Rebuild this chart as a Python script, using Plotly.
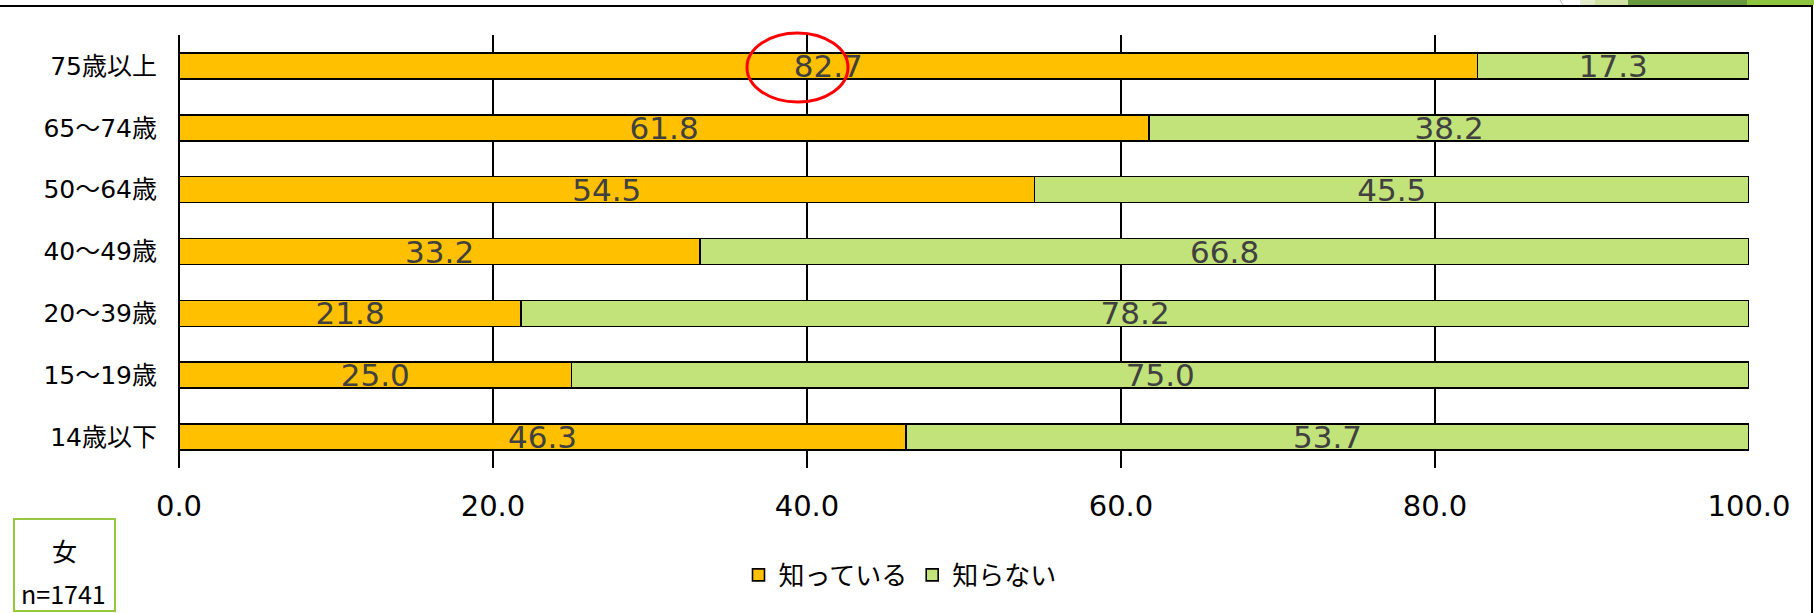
import plotly.graph_objects as go

# Age groups, listed top to bottom
age_groups = ["75歳以上", "65～74歳", "50～64歳", "40～49歳", "20～39歳", "15～19歳", "14歳以下"]
known = [82.7, 61.8, 54.5, 33.2, 21.8, 25.0, 46.3]
unknown = [17.3, 38.2, 45.5, 66.8, 78.2, 75.0, 53.7]
series_names = ["知っている", "知らない"]
x_ticks = [0, 20, 40, 60, 80, 100]
sample_label = ["女", "n=1741"]

W, H = 1814, 613
FONT = "Noto Sans CJK JP, Meiryo, sans-serif"
NUM_FONT = "DejaVu Sans, Noto Sans CJK JP, sans-serif"


def px(x):
    return x / W


def py(y):
    return 1 - y / H


fig = go.Figure()
for name, vals, color in [(series_names[0], known, "#FFC000"),
                          (series_names[1], unknown, "#C2E27A")]:
    fig.add_trace(go.Bar(
        name=name, y=age_groups, x=vals, orientation="h",
        marker=dict(color=color, line=dict(color="#000000", width=1.6)),
        texttemplate="%{x:.1f}", textposition="inside",
        insidetextanchor="middle", textangle=0, constraintext="none",
        textfont=dict(family=NUM_FONT, size=31, color="#404040"),
        hoverinfo="x+y",
    ))

shapes = [
    # outer frame: top and right edges
    dict(type="line", xref="paper", yref="paper", x0=0, x1=px(1813), y0=py(6), y1=py(6),
         line=dict(color="#000000", width=2)),
    dict(type="line", xref="paper", yref="paper", x0=px(1812), x1=px(1812), y0=py(6), y1=py(613),
         line=dict(color="#000000", width=2)),
    # slide decoration strip in the top right corner
    dict(type="rect", xref="paper", yref="paper", x0=px(1580), x1=px(1595), y0=py(5), y1=py(0),
         line=dict(width=0), fillcolor="#E3EDCB"),
    dict(type="rect", xref="paper", yref="paper", x0=px(1595), x1=px(1628), y0=py(5), y1=py(0),
         line=dict(width=0), fillcolor="#D0E2A4"),
    dict(type="rect", xref="paper", yref="paper", x0=px(1628), x1=px(1747), y0=py(5), y1=py(0),
         line=dict(width=0), fillcolor="#689A3D"),
    dict(type="rect", xref="paper", yref="paper", x0=px(1747), x1=px(1814), y0=py(5), y1=py(0),
         line=dict(width=0), fillcolor="#8FC43F"),
    dict(type="line", xref="paper", yref="paper", x0=px(1560), x1=px(1563), y0=py(0), y1=py(5),
         line=dict(color="#BBBBBB", width=1)),
    # sample box
    dict(type="rect", xref="paper", yref="paper", x0=px(14), x1=px(115), y0=py(611), y1=py(519),
         line=dict(color="#96C83C", width=2), fillcolor="rgba(0,0,0,0)"),
    # highlight ellipse
    dict(type="circle", xref="paper", yref="paper", x0=px(747), x1=px(848), y0=py(102), y1=py(33),
         line=dict(color="#FF0000", width=3)),
]

annotations = [
    dict(text=sample_label[0], xref="paper", yref="paper", x=px(64), y=py(550),
         showarrow=False, font=dict(family=FONT, size=25, color="#000000"),
         xanchor="center", yanchor="middle"),
    dict(text=sample_label[1], xref="paper", yref="paper", x=px(63), y=py(593),
         showarrow=False, font=dict(family=FONT, size=25, color="#000000"),
         xanchor="center", yanchor="middle"),
]

fig.update_layout(
    width=W, height=H,
    barmode="stack", bargap=0.58,
    margin=dict(l=0, r=0, t=0, b=0),
    paper_bgcolor="#FFFFFF", plot_bgcolor="#FFFFFF",
    font=dict(family=FONT, color="#000000"),
    showlegend=True,
    legend=dict(orientation="h", x=px(900), xanchor="center", y=py(575), yanchor="middle",
                font=dict(family=FONT, size=26, color="#000000"),
                traceorder="normal", itemwidth=30, bgcolor="rgba(0,0,0,0)"),
    xaxis=dict(domain=[px(179), px(1749)], range=[0, 100], tickvals=x_ticks,
               tickformat=".1f", showgrid=True, gridcolor="#000000", gridwidth=1.5,
               zeroline=True, zerolinecolor="#000000", zerolinewidth=1.5,
               showline=False, ticks="", ticklabelstandoff=18, automargin=False,
               tickfont=dict(family=NUM_FONT, size=29, color="#000000"), fixedrange=True),
    yaxis=dict(domain=[py(468), py(35)], autorange="reversed", type="category",
               showgrid=False, zeroline=False, showline=False, ticks="",
               ticklabelstandoff=21, automargin=False,
               tickfont=dict(family=NUM_FONT, size=25, color="#000000"), fixedrange=True),
    shapes=shapes, annotations=annotations,
)

fig.write_html("out.html")
